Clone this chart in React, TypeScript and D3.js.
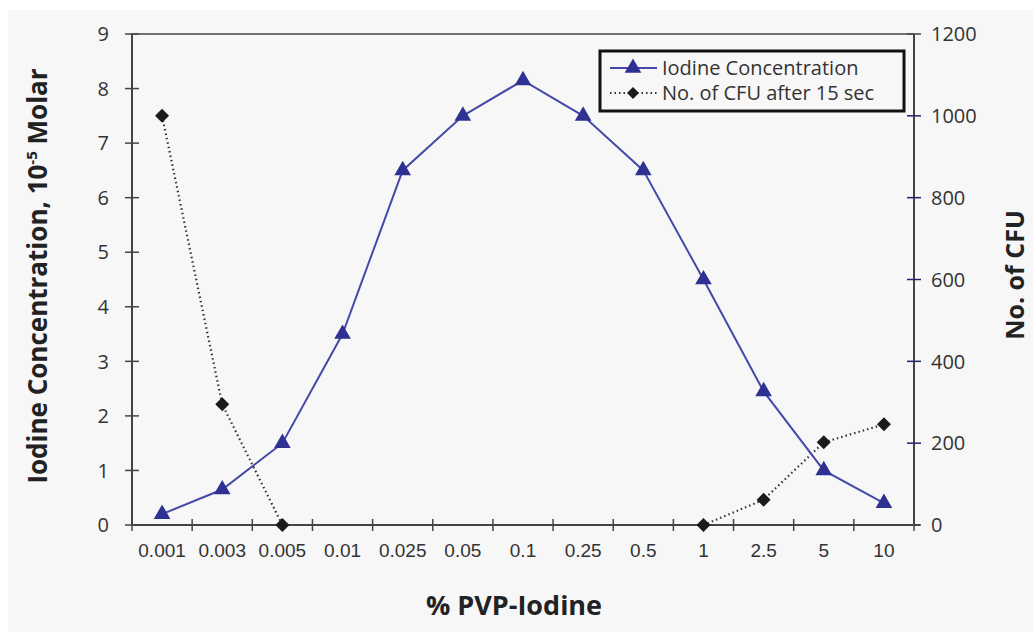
import React from "react";
import * as d3 from "d3";

const categories = ["0.001", "0.003", "0.005", "0.01", "0.025", "0.05", "0.1", "0.25", "0.5", "1", "2.5", "5", "10"];
const iodine = [0.2, 0.65, 1.5, 3.5, 6.5, 7.5, 8.15, 7.5, 6.5, 4.5, 2.45, 1.0, 0.4];
// CFU: no points in the middle of the range
const cfu: (number | null)[] = [1000, 295, 0, null, null, null, null, null, null, 0, 62, 202, 246];
const leftTicks = [0, 1, 2, 3, 4, 5, 6, 7, 8, 9];
const rightTicks = [0, 200, 400, 600, 800, 1000, 1200];

const W = 1033, H = 632;
const m = { left: 132, right: 914, top: 34, bottom: 525 };
const font = "'Open Sans', sans-serif";
const xfont = "'Liberation Sans', Arial, sans-serif";
const txt = "#333";
const blue = "#2e3192";

export default function App() {
  const x = d3.scaleBand().domain(categories).range([m.left, m.right]);
  const yL = d3.scaleLinear().domain([0, 9]).range([m.bottom, m.top]);
  const yR = d3.scaleLinear().domain([0, 1200]).range([m.bottom, m.top]);
  const cx = (c: string) => (x(c) as number) + x.bandwidth() / 2;

  const iodineLine = d3.line<number>().x((_, i) => cx(categories[i])).y(d => yL(d))(iodine) as string;
  const cfuLine = d3.line<number | null>()
    .defined(d => d !== null)
    .x((_, i) => cx(categories[i]))
    .y(d => yR(d as number))(cfu) as string;

  const tri = d3.symbol().type(d3.symbolTriangle).size(120)() as string;
  const dia = (s: number) => `M0,${-s}L${s},0L0,${s}L${-s},0Z`;

  const bounds = categories.map(c => x(c) as number).concat([m.right]);

  return (
    <svg width={W} height={H} style={{ position: "absolute", left: 0, top: 0 }}>
      <rect x={8} y={10} width={W - 8} height={H - 10} fill="#f7f7f7" />
      {/* top border */}
      <line x1={m.left} x2={m.right} y1={m.top} y2={m.top} stroke="#444" strokeWidth={1.5} />
      {/* left axis */}
      <line x1={m.left} x2={m.left} y1={m.top} y2={m.bottom} stroke="#444" strokeWidth={2} />
      {leftTicks.map(t => (
        <g key={"l" + t}>
          <line x1={m.left - 7} x2={m.left + 7} y1={yL(t)} y2={yL(t)} stroke="#444" strokeWidth={1.5} />
          <text x={109} y={yL(t)} dy="0.36em" textAnchor="end" fontFamily={font} fontSize={20} fill={txt}>{t}</text>
        </g>
      ))}
      {/* right axis */}
      <line x1={m.right} x2={m.right} y1={m.top} y2={m.bottom} stroke="#444" strokeWidth={2} />
      {rightTicks.map(t => (
        <g key={"r" + t}>
          <line x1={m.right - 7} x2={m.right + 7} y1={yR(t)} y2={yR(t)} stroke={t === 0 || t === 1200 ? "#444" : "#1f2370"} strokeWidth={1.5} />
          <text x={931} y={yR(t)} dy="0.36em" textAnchor="start" fontFamily={font} fontSize={20} fill={txt}>{t}</text>
        </g>
      ))}
      {/* x axis */}
      <line x1={m.left} x2={m.right + 6} y1={m.bottom} y2={m.bottom} stroke="#444" strokeWidth={2} />
      {bounds.map((b, i) => (
        <line key={"b" + i} x1={b} x2={b} y1={m.bottom - 6} y2={m.bottom + 6} stroke="#444" strokeWidth={1.5} />
      ))}
      {categories.map(c => (
        <text key={"c" + c} x={cx(c)} y={550} dy="0.36em" textAnchor="middle" fontFamily={xfont} fontSize={19} fill={txt}>{c}</text>
      ))}

      {/* series */}
      <path d={cfuLine} fill="none" stroke="#333" strokeWidth={2.2} strokeDasharray="1.5,3" />
      <path d={iodineLine} fill="none" stroke="#4549a8" strokeWidth={2} />
      {iodine.map((v, i) => (
        <path key={"t" + i} d={tri} transform={`translate(${cx(categories[i])},${yL(v)})`} fill={blue} />
      ))}
      {cfu.map((v, i) => v === null ? null : (
        <path key={"d" + i} d={dia(7)} transform={`translate(${cx(categories[i])},${yR(v)})`} fill="#1a1a1a" />
      ))}

      {/* legend */}
      <rect x={600} y={51} width={304} height={60} fill="#f7f7f7" stroke="#111" strokeWidth={3} />
      <line x1={610} x2={657} y1={68} y2={68} stroke="#4549a8" strokeWidth={2} />
      <path d={tri} transform="translate(633,68)" fill={blue} />
      <text x={662} y={68} dy="0.36em" fontFamily={font} fontSize={20} fill={txt}>Iodine Concentration</text>
      <line x1={610} x2={657} y1={93} y2={93} stroke="#333" strokeWidth={2.2} strokeDasharray="1.5,3" />
      <path d={dia(6)} transform="translate(633,93)" fill="#1a1a1a" />
      <text x={662} y={93} dy="0.36em" fontFamily={font} fontSize={20} fill={txt}>No. of CFU after 15 sec</text>

      {/* axis titles */}
      <text transform="translate(38,276) rotate(-90)" textAnchor="middle" dy="0.36em" fontFamily={font} fontSize={26} fontWeight="bold" fill="#222">
        Iodine Concentration, 10<tspan dy="-10" fontSize={15}>-5</tspan><tspan dy="10"> Molar</tspan>
      </text>
      <text transform="translate(1015,275) rotate(-90)" textAnchor="middle" dy="0.36em" fontFamily={font} fontSize={25} fontWeight="bold" fill="#222">No. of CFU</text>
      <text x={514} y={605} textAnchor="middle" dy="0.36em" fontFamily={font} fontSize={27} fontWeight="bold" fill="#222">% PVP-Iodine</text>
    </svg>
  );
}
